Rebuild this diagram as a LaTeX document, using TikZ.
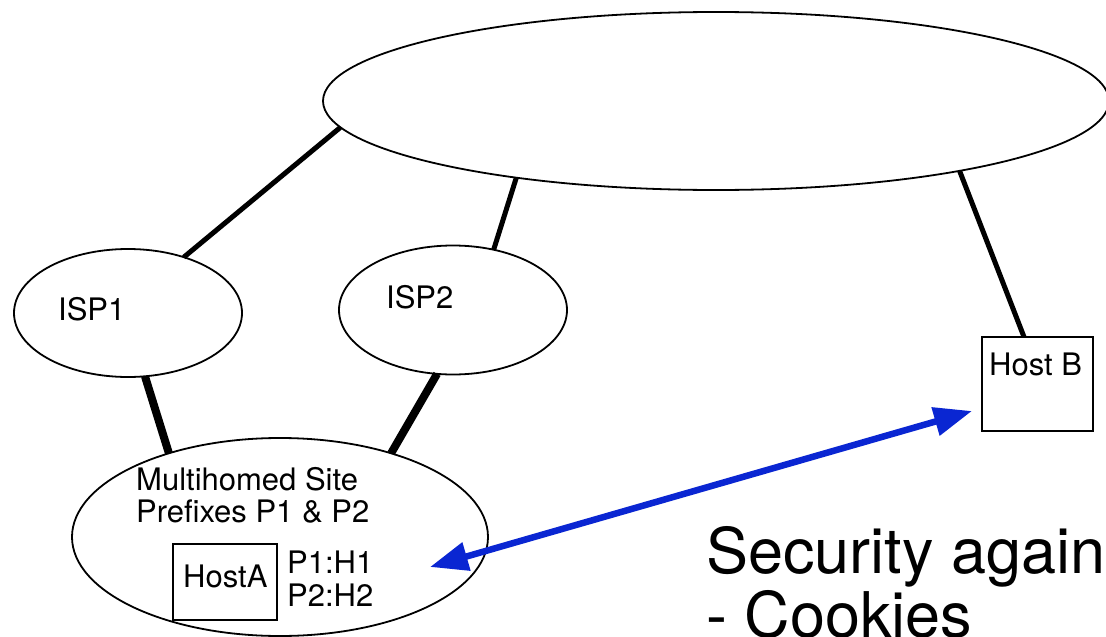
\documentclass[tikz,border=0pt]{standalone}
\usepackage{fontspec}
\setmainfont{TeX Gyre Heros}
\usetikzlibrary{shapes.geometric,arrows.meta}
\definecolor{arrowblue}{RGB}{10,38,210}
\begin{document}
\begin{tikzpicture}[x=1pt,y=-1pt,
  oval/.style={ellipse,draw,line width=1.8pt,inner sep=0pt,outer sep=0pt},
  hostbox/.style={rectangle,draw,line width=1.8pt,inner sep=0pt,outer sep=0pt},
  lbl/.style={inner sep=0pt,anchor=base west,font=\fontsize{31}{33}\selectfont},
  biglbl/.style={inner sep=0pt,anchor=base west,font=\fontsize{63}{66}\selectfont},
  link/.style={line width=5pt},
  access/.style={line width=8pt},
  dbl/.style={arrowblue,line width=6.5pt,{Triangle[length=38pt,width=28pt]}-{Triangle[length=38pt,width=28pt]}}]
\useasboundingbox (0,0) rectangle (1106,637);
\fill[white] (0,0) rectangle (1106,637);
% shapes
\node[oval,minimum width=786pt,minimum height=178pt] (core) at (716,101) {};
\node[oval,minimum width=228pt,minimum height=128pt] (isp1) at (128,313) {};
\node[oval,minimum width=228pt,minimum height=129pt] (isp2) at (453,310) {};
\node[oval,minimum width=416pt,minimum height=198pt] (site) at (280,537) {};
\node[hostbox,minimum width=111pt,minimum height=94pt] (hostB) at (1037.5,384) {};
\node[hostbox,minimum width=104pt,minimum height=76pt] (hostA) at (225,582) {};
% labels
\node[lbl] (isp1t) at (58,320) {ISP1};
\node[lbl] (isp2t) at (386,308) {ISP2};
\node[lbl] (hostBt) at (989,375) {Host B};
\node[lbl] (hostAt) at (183,587) {HostA};
\node[lbl] (site1) at (136,490) {Multihomed Site};
\node[lbl] (site2) at (136,522) {Prefixes P1 \& P2};
\node[lbl] (pa) at (287,573) {P1:H1};
\node[lbl] (pb) at (287,606) {P2:H2};
\node[biglbl] (sec1) at (706,573) {Security again};
\node[biglbl] (sec2) at (706,637) {- Cookies};
% connectors
\draw[link] (core.184) -- (isp1.45);
\draw[link] (core.201) -- (isp2.56);
\draw[link] (core.344) -- (hostB.106);
\draw[access] (isp1.285) -- (site.143);
\draw[access] (isp2.256) -- (site.37);
\coordinate (tipA) at (430,567);
\coordinate (tipB) at (972,411);
\draw[dbl] (tipA) -- (tipB);
\end{tikzpicture}
\end{document}
